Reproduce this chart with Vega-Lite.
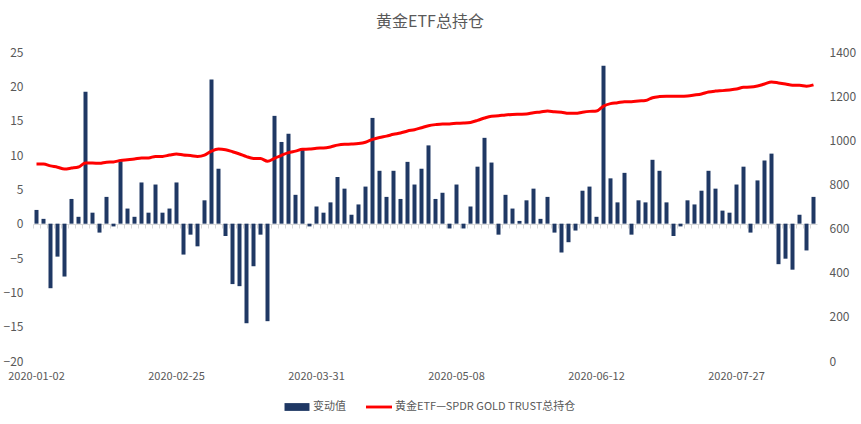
{
  "$schema": "https://vega.github.io/schema/vega-lite/v6.json",
  "autosize": "none",
  "width": 784,
  "height": 309,
  "padding": {"left": 33, "top": 52, "right": 44, "bottom": 63},
  "title": {"text": "黄金ETF总持仓", "fontSize": 16, "fontWeight": "normal", "font": "Noto Sans CJK SC", "color": "#595959", "offset": 16, "dx": 5},
  "config": {
    "view": {"stroke": null},
    "font": "Noto Sans CJK SC",
    "axis": {"labelFont": "Noto Sans CJK SC", "labelFontSize": 12, "labelColor": "#595959", "grid": false, "title": null}
  },
  "data": {
    "values": [
      {"i":0,"v":2.0,"h":892},{"i":1,"v":0.7,"h":892},{"i":2,"v":-9.4,"h":884},{"i":3,"v":-4.8,"h":878},
      {"i":4,"v":-7.7,"h":870},{"i":5,"v":3.6,"h":874},{"i":6,"v":1.0,"h":879},{"i":7,"v":19.2,"h":897},
      {"i":8,"v":1.6,"h":897},{"i":9,"v":-1.3,"h":896},{"i":10,"v":3.9,"h":901},{"i":11,"v":-0.4,"h":902},
      {"i":12,"v":9.1,"h":909},{"i":13,"v":2.2,"h":912},{"i":14,"v":1.0,"h":915},{"i":15,"v":6.0,"h":920},
      {"i":16,"v":1.6,"h":920},{"i":17,"v":5.7,"h":927},{"i":18,"v":1.6,"h":927},{"i":19,"v":2.2,"h":933},
      {"i":20,"v":6.0,"h":938},{"i":21,"v":-4.5,"h":933},{"i":22,"v":-1.6,"h":931},{"i":23,"v":-3.3,"h":927},
      {"i":24,"v":3.4,"h":933},{"i":25,"v":21.0,"h":951},{"i":26,"v":8.0,"h":960},{"i":27,"v":-1.8,"h":957},
      {"i":28,"v":-8.8,"h":948},{"i":29,"v":-9.1,"h":938},{"i":30,"v":-14.5,"h":926},{"i":31,"v":-6.2,"h":918},
      {"i":32,"v":-1.6,"h":917},{"i":33,"v":-14.2,"h":905},{"i":34,"v":15.7,"h":918},{"i":35,"v":11.9,"h":932},
      {"i":36,"v":13.1,"h":944},{"i":37,"v":4.2,"h":951},{"i":38,"v":10.8,"h":959},{"i":39,"v":-0.4,"h":960},
      {"i":40,"v":2.5,"h":964},{"i":41,"v":1.6,"h":965},{"i":42,"v":3.1,"h":970},{"i":43,"v":6.8,"h":978},
      {"i":44,"v":5.1,"h":982},{"i":45,"v":1.3,"h":983},{"i":46,"v":2.8,"h":985},{"i":47,"v":5.4,"h":991},
      {"i":48,"v":15.4,"h":1004},{"i":49,"v":7.7,"h":1013},{"i":50,"v":3.9,"h":1019},{"i":51,"v":7.7,"h":1027},
      {"i":52,"v":3.6,"h":1033},{"i":53,"v":9.0,"h":1042},{"i":54,"v":5.7,"h":1048},{"i":55,"v":8.0,"h":1057},
      {"i":56,"v":11.4,"h":1066},{"i":57,"v":3.6,"h":1071},{"i":58,"v":4.5,"h":1074},{"i":59,"v":-0.7,"h":1074},
      {"i":60,"v":5.7,"h":1077},{"i":61,"v":-0.7,"h":1078},{"i":62,"v":2.5,"h":1081},{"i":63,"v":8.3,"h":1090},
      {"i":64,"v":12.5,"h":1101},{"i":65,"v":8.9,"h":1109},{"i":66,"v":-1.6,"h":1111},{"i":67,"v":4.2,"h":1115},
      {"i":68,"v":2.2,"h":1117},{"i":69,"v":0.4,"h":1118},{"i":70,"v":3.4,"h":1119},{"i":71,"v":5.1,"h":1125},
      {"i":72,"v":0.7,"h":1128},{"i":73,"v":3.9,"h":1133},{"i":74,"v":-1.3,"h":1129},{"i":75,"v":-4.2,"h":1127},
      {"i":76,"v":-2.7,"h":1122},{"i":77,"v":-1.0,"h":1122},{"i":78,"v":4.8,"h":1127},{"i":79,"v":5.4,"h":1131},
      {"i":80,"v":1.0,"h":1133},{"i":81,"v":23.0,"h":1155},{"i":82,"v":6.6,"h":1166},{"i":83,"v":3.1,"h":1170},
      {"i":84,"v":7.4,"h":1175},{"i":85,"v":-1.6,"h":1175},{"i":86,"v":3.4,"h":1178},{"i":87,"v":3.1,"h":1180},
      {"i":88,"v":9.3,"h":1193},{"i":89,"v":7.7,"h":1198},{"i":90,"v":3.1,"h":1200},{"i":91,"v":-1.8,"h":1200},
      {"i":92,"v":-0.4,"h":1200},{"i":93,"v":3.4,"h":1201},{"i":94,"v":2.8,"h":1205},{"i":95,"v":4.8,"h":1210},
      {"i":96,"v":7.7,"h":1219},{"i":97,"v":5.1,"h":1223},{"i":98,"v":1.9,"h":1225},{"i":99,"v":1.6,"h":1228},
      {"i":100,"v":5.7,"h":1232},{"i":101,"v":8.3,"h":1240},{"i":102,"v":-1.3,"h":1241},{"i":103,"v":6.3,"h":1246},
      {"i":104,"v":9.2,"h":1255},{"i":105,"v":10.2,"h":1264},{"i":106,"v":-5.9,"h":1260},{"i":107,"v":-5.1,"h":1255},
      {"i":108,"v":-6.7,"h":1249},{"i":109,"v":1.3,"h":1249},{"i":110,"v":-3.9,"h":1245},{"i":111,"v":3.9,"h":1251}
    ]
  },
  "layer": [
    {
      "mark": {"type": "bar", "width": {"band": 0.57}},
      "encoding": {
        "x": {
          "field": "i", "type": "ordinal",
          "scale": {"paddingInner": 0, "paddingOuter": 0},
          "axis": {
            "values": [0, 20, 40, 60, 80, 100],
            "labelAngle": 0, "domain": false, "ticks": false, "labelPadding": 9, "labelFontSize": 11,
            "labelExpr": "datum.value == 0 ? '2020-01-02' : datum.value == 20 ? '2020-02-25' : datum.value == 40 ? '2020-03-31' : datum.value == 60 ? '2020-05-08' : datum.value == 80 ? '2020-06-12' : '2020-07-27'"
          }
        },
        "y": {
          "field": "v", "type": "quantitative",
          "scale": {"domain": [-20, 25], "nice": false},
          "axis": {"orient": "left", "values": [-20, -15, -10, -5, 0, 5, 10, 15, 20, 25], "domain": false, "ticks": false, "labelPadding": 10}
        },
        "color": {
          "datum": "变动值",
          "scale": {"domain": ["变动值", "黄金ETF—SPDR GOLD TRUST总持仓"], "range": ["#1f3864", "#ff0000"]},
          "legend": {
            "orient": "none", "legendX": 251, "legendY": 342, "direction": "horizontal", "title": null,
            "labelFont": "Noto Sans CJK SC", "labelFontSize": 11, "labelColor": "#595959", "labelLimit": 0,
            "symbolSize": 676, "columnPadding": 20, "labelOffset": 3,
            "encode": {
              "symbols": {
                "update": {
                  "shape": {"signal": "datum.value == '变动值' ? 'M-0.96,-0.3H0.96V0.3H-0.96Z' : 'M-1,-0.11H1V0.11H-1Z'"},
                  "fill": {"signal": "datum.value == '变动值' ? '#1f3864' : '#ff0000'"},
                  "strokeWidth": {"value": 0}
                }
              }
            }
          }
        }
      }
    },
    {
      "mark": {"type": "line", "strokeWidth": 3, "interpolate": "monotone"},
      "encoding": {
        "x": {
          "field": "i", "type": "ordinal",
          "axis": {"orient": "bottom", "labels": false, "offset": -137, "bandPosition": 0, "domainColor": "#d9d9d9", "tickColor": "#d9d9d9", "tickSize": 4}
        },
        "y": {
          "field": "h", "type": "quantitative",
          "scale": {"domain": [0, 1400], "nice": false},
          "axis": {"orient": "right", "values": [0, 200, 400, 600, 800, 1000, 1200, 1400], "format": "d", "domain": false, "ticks": false, "labelPadding": 12}
        },
        "color": {"datum": "黄金ETF—SPDR GOLD TRUST总持仓"}
      }
    }
  ],
  "resolve": {"scale": {"y": "independent"}, "axis": {"x": "independent"}}
}
